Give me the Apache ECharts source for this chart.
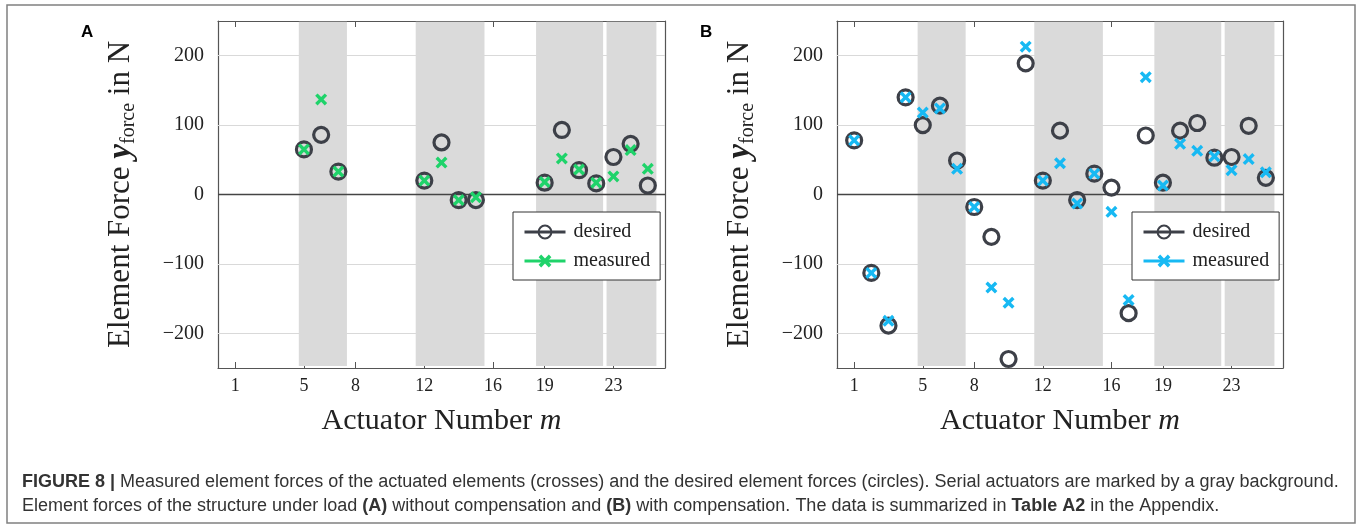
<!DOCTYPE html>
<html style="height: 100%">
<head>
    <meta charset="utf-8">
</head>
<body style="height: 100%; margin: 0; background: #fff">
<div id="container" style="width: 1357px; height: 525px"></div>
<script type="text/javascript" src="https://cdn.jsdelivr.net/npm/echarts@6/dist/echarts.min.js"></script>
<script type="text/javascript">
    // actuator numbers and forces (N)
    var actuatorsA = [5, 6, 7, 12, 13, 14, 15, 19, 20, 21, 22, 23, 24, 25];
    var desiredA = [65, 86, 33, 20, 75, -8, -8, 17, 93, 35, 16, 54, 73, 13];
    var measuredA = [65, 137, 33, 20, 46, -8, -4, 18, 52, 36, 17, 26, 64, 37];

    var actuatorsB = [1, 2, 3, 4, 5, 6, 7, 8, 9, 10, 11, 12, 13, 14, 15, 16, 17, 18, 19, 20, 21, 22, 23, 24, 25];
    var desiredB = [78, -113, -189, 140, 100, 128, 49, -18, -61, -237, 189, 20, 92, -8, 30, 10, -171, 85, 17, 92, 103, 53, 54, 99, 24];
    var measuredB = [78, -113, -182, 140, 118, 124, 37, -18, -134, -156, 213, 20, 45, -13, 30, -25, -152, 169, 13, 73, 63, 55, 35, 51, 32];

    // serial actuators (gray background), in actuator units
    var serialBands = [[4.7, 7.5], [11.5, 15.5], [18.5, 22.4], [22.6, 25.5]];

    var xTicks = [1, 5, 8, 12, 16, 19, 23];
    var yTicks = [-200, -100, 0, 100, 200];

    var dark = '#3d4048';
    var green = '#1fd36a';
    var blue = '#17b9f3';
    var serif = 'Liberation Serif';
    // thick "x" marker
    var crossPath = 'path://M0,2L2,0L5,3L8,0L10,2L7,5L10,8L8,10L5,7L2,10L0,8L3,5Z';

    var dom = document.getElementById("container");
    var myChart = echarts.init(dom);

    function pairs(xs, ys) {
        return xs.map(function (x, i) { return [x, ys[i]]; });
    }

    var grids = [
        {left: 218, top: 21, width: 447, height: 347},
        {left: 837, top: 21, width: 446, height: 347}
    ];

    var xAxes = [], yAxes = [], series = [], legends = [];
    var panels = [
        {x: actuatorsA, d: desiredA, m: measuredA, color: green, tag: 'A', legendLeft: 513},
        {x: actuatorsB, d: desiredB, m: measuredB, color: blue, tag: 'B', legendLeft: 1132}
    ];

    panels.forEach(function (p, g) {
        ['bottom', 'top'].forEach(function (pos) {
            xAxes.push({
                gridIndex: g, type: 'value', position: pos, min: 0, max: 26,
                name: pos === 'bottom' ? 'Actuator Number {i|m}' : '',
                nameLocation: 'middle', nameGap: 38,
                nameTextStyle: {
                    fontFamily: serif, fontSize: 30, color: '#222',
                    rich: {i: {fontFamily: serif, fontStyle: 'italic', fontSize: 30, color: '#222'}}
                },
                axisLine: {show: true, onZero: false, lineStyle: {color: '#555', width: 1.2}},
                axisTick: {show: true, inside: true, length: 6, customValues: xTicks, lineStyle: {color: '#555'}},
                axisLabel: {show: pos === 'bottom', customValues: xTicks, margin: 9,
                    fontFamily: serif, fontSize: 18, color: '#222'},
                splitLine: {show: false}
            });
        });
        ['left', 'right'].forEach(function (pos) {
            yAxes.push({
                gridIndex: g, type: 'value', position: pos, min: -250, max: 250,
                name: pos === 'left' ? 'Element Force {y|y}{s|force} in N' : '',
                nameLocation: 'middle', nameGap: 79, nameRotate: 90,
                nameTextStyle: {
                    fontFamily: serif, fontSize: 31, color: '#222', lineHeight: 36,
                    rich: {
                        y: {fontFamily: serif, fontStyle: 'italic', fontWeight: 'bold', fontSize: 33, color: '#222', lineHeight: 36},
                        s: {fontFamily: serif, fontSize: 20, color: '#222', verticalAlign: 'bottom', lineHeight: 17}
                    }
                },
                axisLine: {show: true, onZero: false, lineStyle: {color: '#555', width: 1.2}},
                axisTick: {show: true, inside: true, length: 6, customValues: yTicks, lineStyle: {color: '#555'}},
                axisLabel: {show: pos === 'left', customValues: yTicks, margin: 14,
                    fontFamily: serif, fontSize: 20, color: '#222',
                    formatter: function (v) { return String(v).replace('-', '\u2212'); }},
                splitLine: {show: false}
            });
        });

        var xi = g * 2, yi = g * 2;

        // grid lines, below the gray bands
        series.push({
            type: 'scatter', xAxisIndex: xi, yAxisIndex: yi, data: [], silent: true,
            markLine: {
                z: 1, silent: true, symbol: ['none', 'none'], label: {show: false},
                lineStyle: {color: '#d9d9d9', width: 1, type: 'solid'},
                emphasis: {disabled: true},
                data: yTicks.filter(function (v) { return v !== 0; }).map(function (v) { return {yAxis: v}; })
            }
        });
        // serial actuator bands
        series.push({
            type: 'scatter', xAxisIndex: xi, yAxisIndex: yi, data: [], silent: true,
            markArea: {
                z: 2, silent: true, itemStyle: {color: '#dadada'}, emphasis: {disabled: true},
                data: serialBands.map(function (b) {
                    return [{xAxis: b[0], yAxis: -247}, {xAxis: b[1], yAxis: 249}];
                })
            }
        });
        // zero line
        series.push({
            type: 'scatter', xAxisIndex: xi, yAxisIndex: yi, data: [], silent: true,
            markLine: {
                z: 4, silent: true, symbol: ['none', 'none'], label: {show: false},
                lineStyle: {color: '#444', width: 1.3, type: 'solid'},
                emphasis: {disabled: true},
                data: [{yAxis: 0}]
            }
        });
        series.push({
            name: 'desired ' + p.tag, type: 'line', xAxisIndex: xi, yAxisIndex: yi, z: 5,
            data: pairs(p.x, p.d),
            symbol: 'circle', symbolSize: 15,
            lineStyle: {color: dark, opacity: 0},
            itemStyle: {color: 'rgba(0,0,0,0)', borderColor: dark, borderWidth: 3.2}
        });
        series.push({
            name: 'measured ' + p.tag, type: 'line', xAxisIndex: xi, yAxisIndex: yi, z: 6,
            data: pairs(p.x, p.m),
            symbol: crossPath, symbolSize: 12,
            lineStyle: {color: p.color, opacity: 0},
            itemStyle: {color: p.color, borderWidth: 0}
        });

        legends.push({
            data: ['desired ' + p.tag, 'measured ' + p.tag],
            orient: 'vertical', left: p.legendLeft, top: 212,
            padding: [10, 10, 9, 10], itemGap: 9, itemWidth: 41, itemHeight: 16,
            backgroundColor: '#fff', borderColor: '#333', borderWidth: 1, borderRadius: 0,
            selectedMode: false,
            formatter: function (n) { return n.split(' ')[0]; },
            textStyle: {fontFamily: serif, fontSize: 20, color: '#222', padding: [0, 0, 0, 3]},
            lineStyle: {opacity: 1, width: 3}
        });
    });

    var capRich = {b: {fontWeight: 'bold', fontSize: 18, fontFamily: 'Liberation Sans', fill: '#333'}};

    var option = {
        animation: false,
        backgroundColor: '#fff',
        grid: grids,
        xAxis: xAxes,
        yAxis: yAxes,
        legend: legends,
        series: series,
        graphic: [
            {type: 'rect', shape: {x: 7, y: 5, width: 1348, height: 518},
                style: {fill: 'none', stroke: '#808080', lineWidth: 1.5}, silent: true},
            {type: 'text', left: 81, top: 24,
                style: {text: 'A', font: 'bold 17px "Liberation Sans"', fill: '#000'}},
            {type: 'text', left: 700, top: 24,
                style: {text: 'B', font: 'bold 17px "Liberation Sans"', fill: '#000'}},
            {type: 'text', left: 22, top: 473,
                style: {
                    text: '{b|FIGURE 8 |} Measured element forces of the actuated elements (crosses) and the desired element forces (circles). Serial actuators are marked by a gray background.',
                    font: '18px "Liberation Sans"', fill: '#333', rich: capRich
                }},
            {type: 'text', left: 22, top: 497,
                style: {
                    text: 'Element forces of the structure under load {b|(A)} without compensation and {b|(B)} with compensation. The data is summarized in {b|Table A2} in the Appendix.',
                    font: '18px "Liberation Sans"', fill: '#333', rich: capRich
                }}
        ]
    };

    myChart.setOption(option);
</script>
</body>
</html>
